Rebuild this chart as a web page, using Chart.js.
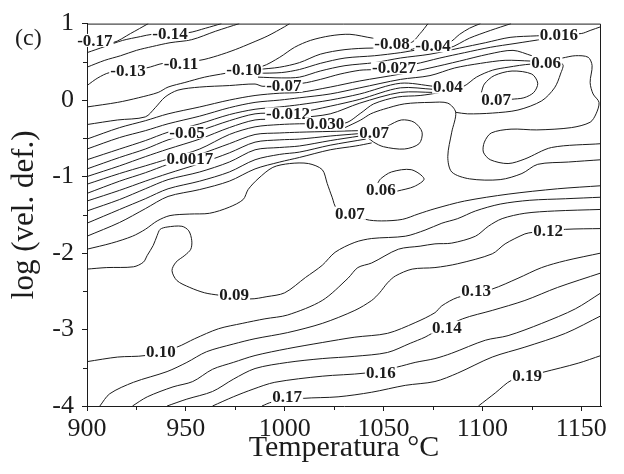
<!DOCTYPE html>
<html><head><meta charset="utf-8">
<script src="https://cdn.jsdelivr.net/npm/chart.js@4.4.0/dist/chart.umd.min.js"></script>
<style>html,body{margin:0;padding:0;background:#fff;}canvas{display:block;}</style>
</head><body>
<canvas id="c" width="624" height="474"></canvas>
<script>
// ---- axes ----
const xTicks = [900, 950, 1000, 1050, 1100, 1150];
const yTicks = [-4, -3, -2, -1, 0, 1];
const xMinor = [925, 975, 1025, 1075, 1125];
const yMinor = [-3.5, -2.5, -1.5, -0.5, 0.5];

// ---- contour lines: [temperature °C, log strain rate] ----
const top1 = [[900,0.75],[913,0.75],[922,0.87],[931,1.0]];
const top2 = [[900,0.62],[909,0.70],[918,0.78],[927,0.83],[933,0.86],[951,0.88],[960,0.94],[968,1.0]];
const top3 = [[900,0.43],[909,0.52],[917,0.58],[925,0.65],[933,0.70],[942,0.75],[953,0.79],[965,0.90],[977,1.0]];
const top4 = [[900,0.19],[905.5,0.29],[911.5,0.36],[930,0.42],[938.5,0.48],[957,0.52],[966,0.58],[975,0.66],[983.5,0.75],[991.5,0.84],[1000,0.96],[1002.5,1.0]];
const top5 = [[900,-0.09],[915.5,-0.03],[926,0.03],[936,0.10],[941,0.17],[949.5,0.23],[959.5,0.30],[970,0.35],[988.5,0.44],[997.5,0.56],[1005,0.69],[1013,0.78],[1023,0.84],[1033,0.86],[1044.5,0.81],[1063.5,0.75],[1068.5,0.87],[1072.5,1.0]];
const upA = [[986.5,0.40],[997.5,0.43],[1007.5,0.49],[1018,0.60],[1030.5,0.66],[1044.5,0.68],[1063.5,0.66],[1068.5,0.70],[1083,0.75],[1088.5,0.86],[1093.5,0.94],[1099,1.0]];
const upB = [[986.5,0.35],[998.5,0.36],[1007.5,0.40],[1018,0.48],[1030.5,0.55],[1045.5,0.58],[1058.5,0.62],[1068.5,0.66],[1083,0.68],[1093.5,0.81],[1104,0.91],[1114.5,1.0]];
const upC = [[986.5,0.30],[998.5,0.29],[1007.5,0.30],[1018,0.38],[1030.5,0.45],[1045.5,0.49],[1058.5,0.55],[1073.5,0.60],[1088.5,0.68],[1101.5,0.75],[1114,0.82],[1127.5,0.84],[1150,0.87],[1154.5,0.91],[1160,0.96]];
const mid0 = [[900,-0.32],[915.5,-0.26],[929.5,-0.22],[934.5,-0.10],[939.5,0.04],[946,0.13],[957,0.17],[972,0.19],[985,0.21],[989,0.18],[1009,0.22],[1018,0.27],[1028,0.34],[1038,0.39],[1045,0.40],[1065.5,0.47],[1078.5,0.55],[1091,0.62],[1104,0.69],[1116.5,0.74],[1131.5,0.80]];
const mid1 = [[900,-0.51],[916.5,-0.36],[929.5,-0.27],[941,-0.18],[957,-0.09],[972,0.0],[985,0.06],[997.5,0.09],[1007.5,0.10],[1023,0.17],[1038,0.25],[1058.5,0.34],[1073.5,0.42],[1088.5,0.51],[1103,0.60],[1115.5,0.65],[1125,0.58]];
const mid2 = [[900,-0.64],[916.5,-0.49],[929.5,-0.40],[941,-0.31],[957,-0.21],[972,-0.10],[985,-0.03],[997.5,0.0],[1007.5,0.03],[1023,0.08],[1038,0.16],[1058.5,0.27],[1073.5,0.32],[1086,0.42],[1099,0.48],[1111.5,0.52],[1124.5,0.51]];
const mid3 = [[900,-0.78],[916.5,-0.64],[929.5,-0.53],[941,-0.42],[957,-0.31],[972,-0.19],[985,-0.12],[997.5,-0.09],[1007.5,-0.06],[1023,0.0],[1038,0.08],[1058.5,0.22],[1075.5,0.18]];
const mid4 = [[900,-0.90],[916.5,-0.75],[929.5,-0.64],[941,-0.52],[957,-0.40],[972,-0.27],[985,-0.18],[997.5,-0.17],[1007.5,-0.16],[1023,-0.08],[1038,0.01],[1058.5,0.16],[1075.5,0.14]];
const mid5 = [[900,-1.0],[916.5,-0.86],[929.5,-0.74],[941,-0.64],[957,-0.51],[972,-0.36],[985,-0.26],[997.5,-0.25],[1007.5,-0.23],[1023,-0.18],[1038,-0.04],[1058.5,0.10],[1075.5,0.10]];
const mid6 = [[900,-1.10],[916.5,-0.96],[929.5,-0.86],[941,-0.77],[957,-0.64],[972,-0.45],[985,-0.35],[997.5,-0.32],[1007.5,-0.31],[1030.5,-0.30],[1038.5,-0.17],[1045,-0.05],[1057,0.04],[1068.5,0.06],[1078.5,0.10],[1090.5,0.18],[1097,0.30],[1105,0.39],[1113,0.43],[1124.5,0.47],[1140.5,0.47],[1139.5,0.34],[1136.5,0.16],[1130,-0.01],[1118,-0.13],[1105,-0.17],[1092.5,-0.18],[1086.5,-0.16]];
const ring6 = [[1030.5,-0.36],[1038.5,-0.26],[1043.5,-0.18],[1050,-0.12],[1060.5,-0.05],[1074,-0.03],[1082.5,-0.04],[1086.5,-0.16],[1084.5,-0.42],[1082.5,-0.74],[1084.5,-0.94],[1093.5,-1.03],[1109,-1.04],[1120,-0.96],[1128,-0.84],[1143.5,-0.81],[1160,-0.78]];
const loopTR = [[1114.5,0.01],[1121,0.03],[1126,0.10],[1128,0.22],[1125,0.34],[1115,0.38],[1106,0.32],[1101,0.21],[1099.5,0.10]];
const hookR = [[1140.5,0.55],[1147,0.58],[1153.5,0.56],[1155.5,0.45],[1154.5,0.23],[1156,0.08],[1159,-0.03],[1157.5,-0.18],[1154.5,-0.29],[1145,-0.36],[1127.5,-0.39],[1114.5,-0.38],[1104.5,-0.43],[1101,-0.55],[1100.5,-0.68],[1104,-0.78],[1113,-0.83],[1121.5,-0.77],[1135,-0.62],[1160,-0.57]];
const loopM07 = [[1052,-0.34],[1059,-0.26],[1065.5,-0.29],[1069.5,-0.42],[1068,-0.57],[1060.5,-0.64],[1050,-0.61],[1045,-0.55],[1042,-0.49]];
const loopM06 = [[1057,-1.19],[1065.5,-1.13],[1070.5,-1.03],[1064,-0.91],[1054,-0.94],[1048.5,-1.03],[1047,-1.09]];
const mid7 = [[900,-1.22],[916.5,-1.06],[929.5,-0.95],[941,-0.84],[957,-0.71],[972,-0.57],[985,-0.45],[997.5,-0.43],[1007.5,-0.42],[1023,-0.41],[1037,-0.40]];
const mid8 = [[900,-1.32],[916.5,-1.18],[929.5,-1.06],[941,-0.96],[957,-0.83],[972,-0.69],[985,-0.55],[997.5,-0.52],[1007.5,-0.51],[1023,-0.47],[1037,-0.44]];
const mid9 = [[900,-1.45],[916.5,-1.30],[929.5,-1.16],[941,-1.04],[957,-0.94],[972,-0.81],[985,-0.65],[997.5,-0.62],[1007.5,-0.60],[1023,-0.53],[1038,-0.47]];
const mid10 = [[900,-1.61],[916.5,-1.43],[929.5,-1.29],[941,-1.16],[957,-1.06],[972,-0.94],[985,-0.78],[997.5,-0.71],[1007.5,-0.68],[1023,-0.59],[1041,-0.51]];
const mid11 = [[900,-1.78],[916.5,-1.60],[929.5,-1.42],[941,-1.26],[957,-1.17],[972,-1.06],[985,-0.90],[997.5,-0.81],[1007.5,-0.75],[1023,-0.65],[1036,-0.60],[1044,-0.56]];
const line007 = [[900,-1.95],[912.5,-1.87],[923,-1.78],[929.5,-1.69],[935.5,-1.58],[942,-1.51],[952,-1.49],[962,-1.48],[972,-1.40],[979,-1.30],[981.5,-1.17],[986.5,-1.03],[994,-0.88],[1002.5,-0.83],[1012,-0.83],[1019,-0.91],[1021.5,-1.09],[1024,-1.27],[1026.5,-1.42],[1041,-1.56],[1049,-1.58],[1059.5,-1.56],[1067.5,-1.49],[1076,-1.42],[1091,-1.32],[1113,-1.23],[1138,-1.16],[1160,-1.12]];
const line009 = [[900,-2.21],[910,-2.19],[923.5,-2.18],[928.5,-2.12],[930.5,-2.03],[933.5,-1.90],[935.5,-1.77],[937,-1.69],[940.5,-1.66],[948,-1.65],[951.5,-1.71],[953,-1.84],[952.5,-1.95],[949.5,-2.03],[945,-2.12],[943,-2.23],[945.5,-2.36],[952,-2.45],[959.5,-2.52],[966.5,-2.55],[982.5,-2.60],[991,-2.57],[1000,-2.52],[1010.5,-2.32],[1019,-2.16],[1025.5,-1.99],[1035.5,-1.86],[1044,-1.81],[1061,-1.78],[1071,-1.70],[1079.5,-1.61],[1087.5,-1.55],[1096.5,-1.45],[1109,-1.36],[1124,-1.31],[1142,-1.29],[1160,-1.27]];
const line010 = [[900,-3.42],[915.5,-3.36],[929.5,-3.34],[945.5,-3.23],[954.5,-3.12],[966.5,-2.99],[978.5,-2.92],[990,-2.86],[1001.5,-2.81],[1019,-2.62],[1032,-2.33],[1037,-2.19],[1044,-2.13],[1057.5,-1.95],[1068.5,-1.91],[1076,-1.88],[1084.5,-1.87],[1096.5,-1.78],[1103,-1.65],[1110,-1.55],[1121.5,-1.48],[1136.5,-1.45],[1160,-1.43]];
const line012 = [[906.5,-4.0],[911.5,-3.84],[923.5,-3.69],[940.5,-3.55],[950.5,-3.43],[960.5,-3.29],[974,-3.19],[985,-3.12],[1001.5,-3.04],[1019,-2.92],[1035.5,-2.75],[1044,-2.62],[1048,-2.52],[1052,-2.39],[1056,-2.30],[1064.5,-2.21],[1076,-2.19],[1087.5,-2.14],[1105,-2.01],[1111.5,-1.88],[1121.5,-1.75],[1125.5,-1.73],[1142,-1.69],[1160,-1.68]];
const line013 = [[923,-4.0],[930.5,-3.88],[943.5,-3.75],[953.5,-3.68],[963.5,-3.52],[974,-3.43],[985,-3.34],[1001.5,-3.25],[1019,-3.17],[1035.5,-3.10],[1052,-3.05],[1066,-2.91],[1076,-2.78],[1079.5,-2.69],[1087.5,-2.58],[1105,-2.47],[1118,-2.33],[1130,-2.19],[1142,-2.10],[1160,-2.0]];
const line014 = [[940.5,-4.0],[950.5,-3.91],[963.5,-3.81],[974,-3.65],[985,-3.51],[1001.5,-3.43],[1019,-3.38],[1035.5,-3.35],[1052,-3.30],[1063.5,-3.18],[1071,-3.10],[1074.5,-3.05],[1090,-2.86],[1105,-2.75],[1121.5,-2.62],[1138,-2.45],[1160,-2.26]];
const line016 = [[963.5,-4.0],[974,-3.88],[984,-3.78],[995,-3.69],[1019,-3.61],[1040.5,-3.57],[1057,-3.49],[1066,-3.43],[1076,-3.38],[1084.5,-3.31],[1101.5,-3.14],[1113,-3.08],[1130,-2.92],[1147,-2.73],[1160,-2.52]];
const line017 = [[988.5,-4.0],[993.5,-3.95],[1009.5,-3.90],[1027,-3.88],[1044,-3.82],[1061,-3.73],[1076,-3.68],[1087.5,-3.57],[1105,-3.36],[1121.5,-3.23],[1142,-3.05],[1160,-2.82]];
const line019 = [[1098,-4.0],[1106.5,-3.83],[1115,-3.66],[1130.5,-3.56],[1148.5,-3.44],[1160,-3.34]];

const contours = [top1, top2, top3, top4, top5, upA, upB, upC, mid0, mid1, mid2, mid3, mid4, mid5, mid6, ring6,
  loopTR, hookR, loopM07, loopM06, mid7, mid8, mid9, mid10, mid11,
  line007, line009, line010, line012, line013, line014, line016, line017, line019];

// ---- contour labels ----
const labelText = ['-0.17','-0.14','-0.13','-0.11','-0.10','-0.08','-0.04','-0.07','-0.027','-0.012','0.030','0.04','0.016','0.06','0.07','0.07','-0.05','0.0017','0.06','0.07','0.12','0.09','0.13','0.14','0.10','0.16','0.19','0.17'];
const labelT = [904, 942, 920.7, 947.5, 979.4, 1054.3, 1075, 999.6, 1055.3, 1001.7, 1020.4, 1082.6, 1138.7, 1132.2, 1106.9, 1045.2, 950.6, 952.1, 1048.7, 1033, 1133.2, 974.4, 1096.8, 1082.1, 937.4, 1048.7, 1122.6, 1001.2];
const labelL = [0.78, 0.87, 0.39, 0.48, 0.40, 0.74, 0.71, 0.19, 0.42, -0.18, -0.31, 0.17, 0.86, 0.49, 0.01, -0.42, -0.42, -0.77, -1.17, -1.48, -1.71, -2.55, -2.49, -2.97, -3.29, -3.56, -3.60, -3.88];

const INK = '#1c1c1c';
const SERIF = '"Liberation Serif", "Times New Roman", serif';

const overlay = {
  id: 'overlay',
  afterDatasetsDraw(chart) {
    const {ctx, chartArea: a, scales: {x, y}} = chart;
    ctx.save();
    ctx.strokeStyle = INK; ctx.lineWidth = 1;
    ctx.beginPath();
    ctx.moveTo(a.left, a.top + 0.5); ctx.lineTo(a.right - 0.5, a.top + 0.5); ctx.lineTo(a.right - 0.5, a.bottom);
    ctx.stroke();
    ctx.beginPath();
    xMinor.forEach(v => { const px = Math.round(x.getPixelForValue(v)) + 0.5; ctx.moveTo(px, a.bottom); ctx.lineTo(px, a.bottom + 4); });
    yMinor.forEach(v => { const py = Math.round(y.getPixelForValue(v)) + 0.5; ctx.moveTo(a.left - 4, py); ctx.lineTo(a.left, py); });
    ctx.stroke();
    ctx.font = 'bold 17px ' + SERIF;
    ctx.textAlign = 'center'; ctx.textBaseline = 'middle';
    labelText.forEach((t, i) => {
      const px = x.getPixelForValue(labelT[i]), py = y.getPixelForValue(labelL[i]);
      const w = ctx.measureText(t).width;
      ctx.fillStyle = '#fff'; ctx.fillRect(px - w / 2 - 1, py - 6.5, w + 2, 13);
      ctx.fillStyle = INK; ctx.fillText(t, px, py + 1);
    });
    ctx.font = '24px ' + SERIF; ctx.textAlign = 'left';
    ctx.fillText('(c)', 15, 39);
    ctx.restore();
  }
};

new Chart(document.getElementById('c'), {
  type: 'scatter',
  data: {
    datasets: contours.map(pts => ({
      data: pts.map(p => ({x: p[0], y: p[1]})),
      showLine: true, borderColor: INK, borderWidth: 1, pointRadius: 0, tension: 0.3, fill: false
    }))
  },
  options: {
    responsive: false, animation: false, devicePixelRatio: 1,
    layout: {padding: {top: 21, right: 23, left: 0, bottom: 0}},
    plugins: {legend: {display: false}, tooltip: {enabled: false}},
    scales: {
      x: {
        type: 'linear', position: 'bottom', min: 900, max: 1160,
        afterBuildTicks: s => { s.ticks = xTicks.map(v => ({value: v})); },
        afterFit: s => { s.height = 68; },
        ticks: {color: INK, font: {family: SERIF, size: 26}, padding: 3, callback: v => String(v), maxRotation: 0},
        grid: {drawOnChartArea: false, drawTicks: true, tickLength: 5, color: INK},
        border: {display: true, color: INK, width: 1},
        title: {display: true, text: 'Temperatura °C', color: INK, font: {family: SERIF, size: 30}, padding: {top: 0, bottom: 8}}
      },
      y: {
        type: 'linear', position: 'left', min: -4, max: 1,
        afterBuildTicks: s => { s.ticks = yTicks.map(v => ({value: v})); },
        afterFit: s => { s.width = 87; },
        ticks: {color: INK, font: {family: SERIF, size: 26}, padding: 8, callback: v => String(v)},
        grid: {drawOnChartArea: false, drawTicks: true, tickLength: 5, color: INK},
        border: {display: true, color: INK, width: 1},
        title: {display: true, text: 'log (vel. def.)', color: INK, font: {family: SERIF, size: 31}, padding: {top: 6, bottom: 0}}
      }
    }
  },
  plugins: [overlay]
});
</script>
</body></html>
